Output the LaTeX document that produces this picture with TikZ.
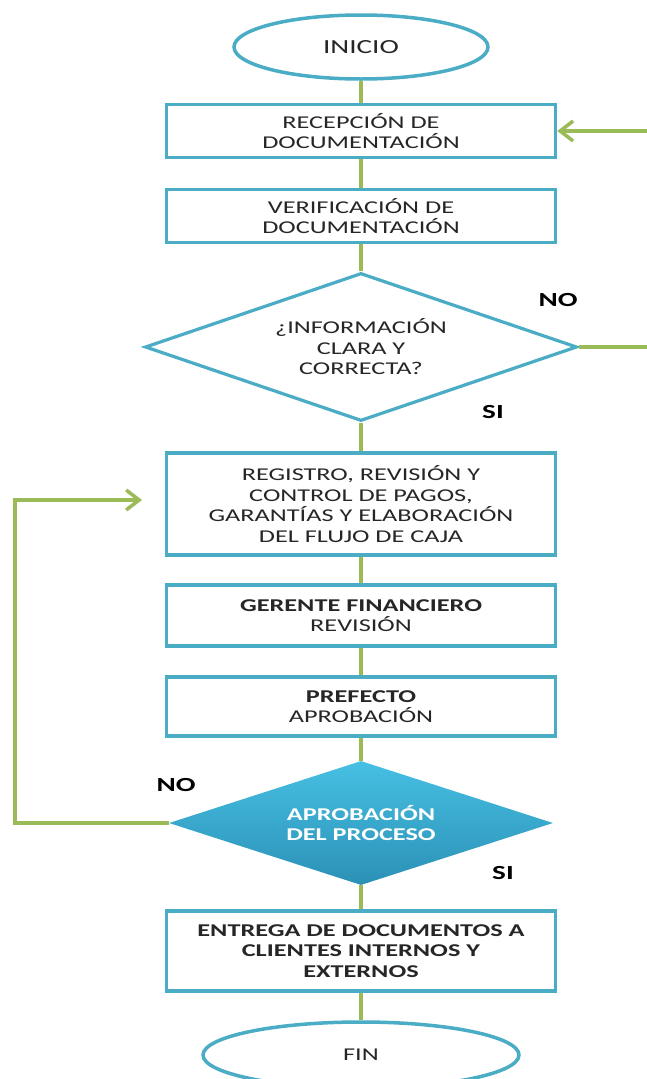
\documentclass[tikz,border=0pt]{standalone}
\usepackage{fontspec}
\setmainfont{Carlito}[FakeStretch=1.46]
\usetikzlibrary{shapes.geometric,arrows.meta,backgrounds}
\definecolor{boxblue}{HTML}{4BACC6}
\definecolor{flowgreen}{HTML}{9BBB59}
\definecolor{txt}{HTML}{262626}
\definecolor{diatop}{HTML}{46C0E3}
\definecolor{diabot}{HTML}{2C90B6}
\tikzset{
  every node/.style={font=\fontsize{18}{20.5}\selectfont, text=txt, align=center, inner sep=0pt},
  procbox/.style={rectangle, draw=boxblue, line width=3.5pt, fill=white,
                  minimum width=389pt, minimum height=#1},
  terminal/.style={ellipse, draw=boxblue, line width=3.5pt, fill=white},
  decision/.style={diamond, shape aspect=3, draw=boxblue, line width=3.2pt, fill=white},
  flow/.style={draw=flowgreen, line width=4.5pt},
  back/.style={flow, -{Straight Barb[length=13pt,width=20pt,line width=3.5pt]}},
  answer/.style={font=\fontsize{20}{22}\selectfont\bfseries, text=black},
}
\begin{document}
\begin{tikzpicture}[x=1pt,y=-1pt]
\useasboundingbox (0,0) rectangle (646,1079);

% main column
\node[terminal, minimum width=254pt, minimum height=64pt,
      font=\fontsize{20}{22}\selectfont] (inicio) at (361,47) {INICIO};
\node[procbox=53pt] (recep) at (361,131) {RECEPCIÓN DE\\DOCUMENTACIÓN};
\node[procbox=53pt] (verif) at (361,216) {VERIFICACIÓN DE\\DOCUMENTACIÓN};
\node[decision, minimum width=432pt, minimum height=148pt] (info) at (361,347)
  {¿INFORMACIÓN\\CLARA Y\\CORRECTA?};
\node[procbox=102pt] (regis) at (361,504)
  {REGISTRO, REVISIÓN Y\\CONTROL DE PAGOS,\\GARANTÍAS Y ELABORACIÓN\\DEL FLUJO DE CAJA};
\node[procbox=61pt] (geren) at (361,615.5) {\textbf{GERENTE FINANCIERO}\\REVISIÓN};
\node[procbox=59pt] (prefe) at (361,706.5) {\textbf{PREFECTO}\\APROBACIÓN};
\node[diamond, shape aspect=3, top color=diatop, bottom color=diabot, draw=none,
      minimum width=384pt, minimum height=124pt, text=white,
      font=\fontsize{18}{20.5}\selectfont\bfseries] (aprob) at (361,823)
  {APROBACIÓN\\DEL PROCESO};
\node[procbox=80pt] (entre) at (361,951)
  {\textbf{ENTREGA DE DOCUMENTOS A}\\\textbf{CLIENTES INTERNOS Y}\\\textbf{EXTERNOS}};
\node[terminal, minimum width=316pt, minimum height=66pt] (fin) at (361,1055) {FIN};

% answer labels
\node[answer] (no1) at (558,300) {NO};
\node[answer] (si1) at (493,412) {SI};
\node[answer] (no2) at (176,785) {NO};
\node[answer] (si2) at (503,873) {SI};

\coordinate (backend) at (142,500);

\begin{pgfonlayer}{background}
  \draw[flow] (inicio) -- (recep);
  \draw[flow] (recep) -- (verif);
  \draw[flow] (verif) -- (info);
  \draw[flow] (info) -- (regis);
  \draw[flow] (regis) -- (geren);
  \draw[flow] (geren) -- (prefe);
  \draw[flow] (prefe) -- (aprob);
  \draw[flow] (aprob) -- (entre);
  \draw[flow] (entre) -- (fin);
\end{pgfonlayer}

% return paths
\draw[back] (info.east) -- (662,347) |- (recep.east);
\draw[back] (aprob.west) -- (15,823) |- (backend);
\end{tikzpicture}
\end{document}
